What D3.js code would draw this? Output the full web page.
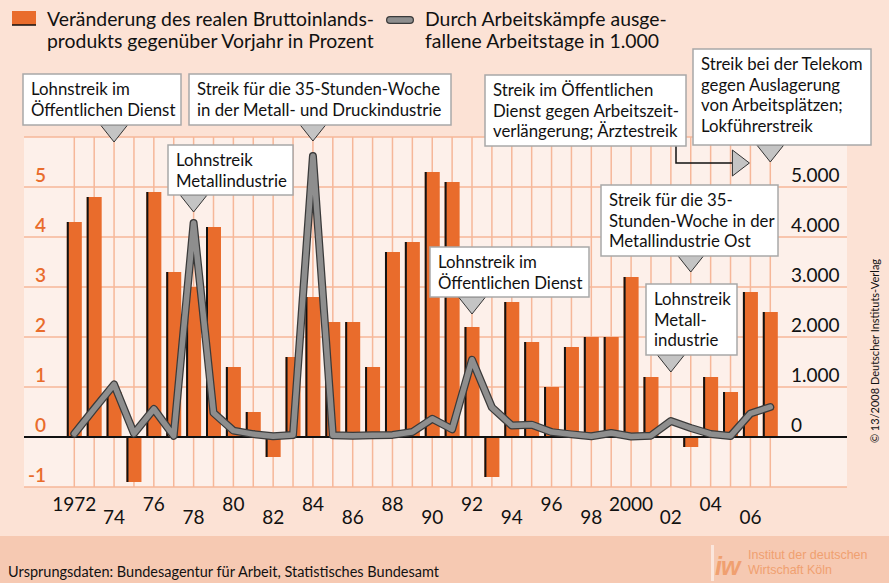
<!DOCTYPE html>
<html>
<head>
<meta charset="utf-8">
<script src="https://cdn.jsdelivr.net/npm/d3@7"></script>
<style>
  body { margin: 0; background: #fce2d5; }
  svg { display: block; font-family: Lato, "Open Sans", sans-serif; }
</style>
</head>
<body>
<script>
// years on the x axis
var years = [1972, 1973, 1974, 1975, 1976, 1977, 1978, 1979, 1980, 1981,
             1982, 1983, 1984, 1985, 1986, 1987, 1988, 1989, 1990, 1991,
             1992, 1993, 1994, 1995, 1996, 1997, 1998, 1999, 2000, 2001,
             2002, 2003, 2004, 2005, 2006, 2007];

// real GDP change vs previous year, percent (bars, left axis)
var gdpChange = [4.3, 4.8, 0.9, -0.9, 4.9, 3.3, 3.0, 4.2, 1.4, 0.5,
                 -0.4, 1.6, 2.8, 2.3, 2.3, 1.4, 3.7, 3.9, 5.3, 5.1,
                 2.2, -0.8, 2.7, 1.9, 1.0, 1.8, 2.0, 2.0, 3.2, 1.2,
                 0.0, -0.2, 1.2, 0.9, 2.9, 2.5];

// working days lost through strikes, in 1.000 (line, right axis)
var lostDays = [66, 563, 1051, 69, 560, 24, 4281, 483, 128, 58,
                15, 41, 5618, 35, 27, 33, 42, 100, 364, 154,
                1545, 593, 229, 247, 98, 53, 16, 79, 11, 27,
                320, 180, 60, 20, 470, 600];

// tick labels
var yearTicks  = [1972, 1974, 1976, 1978, 1980, 1982, 1984, 1986, 1988, 1990,
                  1992, 1994, 1996, 1998, 2000, 2002, 2004, 2006];
var yearLabels = ["1972", "74", "76", "78", "80", "82", "84", "86", "88", "90",
                  "92", "94", "96", "98", "2000", "02", "04", "06"];
var leftTicks  = [-1, 0, 1, 2, 3, 4, 5];
var rightTicks = [0, 1000, 2000, 3000, 4000, 5000];

// strike notes
var noteYears = [1974, 1984, 1978, 1992, 2003, 2002, 2006, 2007];
var noteTexts = [
  ["Lohnstreik im", "Öffentlichen Dienst"],
  ["Streik für die 35-Stunden-Woche", "in der Metall- und Druckindustrie"],
  ["Lohnstreik", "Metallindustrie"],
  ["Lohnstreik im", "Öffentlichen Dienst"],
  ["Streik für die 35-", "Stunden-Woche in der", "Metallindustrie Ost"],
  ["Lohnstreik", "Metall-", "industrie"],
  ["Streik im Öffentlichen", "Dienst gegen Arbeitszeit-", "verlängerung; Ärztestreik"],
  ["Streik bei der Telekom", "gegen Auslagerung", "von Arbeitsplätzen;", "Lokführerstreik"]
];

var width = 889, height = 583;
var orange = "#e96c2c";
var grid = "#f6b799";

var svg = d3.select("body").append("svg")
  .attr("width", width)
  .attr("height", height);

// backgrounds
svg.append("rect").attr("width", width).attr("height", height).attr("fill", "#fce2d5");
svg.append("rect").attr("x", 0).attr("y", 536).attr("width", width).attr("height", 47)
  .attr("fill", "#f6c9b2");

var plotL = 24, plotR = 847, plotT = 137, plotB = 487;

var x = d3.scalePoint().domain(years).range([74.3, 770.3]);
var y = d3.scaleLinear().domain([-1, 6]).range([plotB, plotT]);
var y2 = d3.scaleLinear().domain([-1000, 6000]).range([plotB, plotT]);

svg.append("rect")
  .attr("x", plotL).attr("y", plotT)
  .attr("width", plotR - plotL).attr("height", plotB - plotT)
  .attr("fill", "#fdf0ea");

// grid
svg.selectAll(".vgrid").data(years).enter().append("line")
  .attr("x1", function(d) { return x(d); })
  .attr("x2", function(d) { return x(d); })
  .attr("y1", plotT).attr("y2", plotB)
  .attr("stroke", grid).attr("stroke-width", 1.5);

svg.selectAll(".hgrid").data([-1, 0, 1, 2, 3, 4, 5, 6]).enter().append("line")
  .attr("x1", plotL).attr("x2", plotR)
  .attr("y1", function(d) { return y(d); })
  .attr("y2", function(d) { return y(d); })
  .attr("stroke", grid).attr("stroke-width", 1.5);

// bars
var barW = 15;
var bars = svg.selectAll(".bar").data(years).enter().append("g");
bars.append("rect")
  .attr("x", function(d) { return x(d) - barW / 2; })
  .attr("width", barW)
  .attr("y", function(d, i) { return Math.min(y(gdpChange[i]), y(0)); })
  .attr("height", function(d, i) { return Math.abs(y(gdpChange[i]) - y(0)); })
  .attr("fill", orange);
bars.append("rect")
  .attr("x", function(d) { return x(d) - barW / 2; })
  .attr("width", 2)
  .attr("y", function(d, i) { return Math.min(y(gdpChange[i]), y(0)); })
  .attr("height", function(d, i) { return Math.abs(y(gdpChange[i]) - y(0)); })
  .attr("fill", "#111");

// zero line
svg.append("line")
  .attr("x1", plotL).attr("x2", plotR)
  .attr("y1", y(0)).attr("y2", y(0))
  .attr("stroke", "#111").attr("stroke-width", 1.8);

// strike line
var line = d3.line()
  .x(function(d, i) { return x(years[i]); })
  .y(function(d) { return y2(d); });

svg.append("path").datum(lostDays)
  .attr("d", line).attr("fill", "none")
  .attr("stroke", "#3a3a3a").attr("stroke-width", 8)
  .attr("stroke-linejoin", "round").attr("stroke-linecap", "round");
svg.append("path").datum(lostDays)
  .attr("d", line).attr("fill", "none")
  .attr("stroke", "#8e8e8e").attr("stroke-width", 5.5)
  .attr("stroke-linejoin", "round").attr("stroke-linecap", "round");

// left axis labels
svg.selectAll(".lt").data(leftTicks).enter().append("text")
  .attr("x", 46)
  .attr("y", function(d) { return y(d) - 5; })
  .attr("text-anchor", "end")
  .attr("fill", orange)
  .attr("font-size", 19)
  .attr("font-weight", 600)
  .text(function(d) { return d; });

// right axis labels
var fmt = d3.formatLocale({ decimal: ",", thousands: ".", grouping: [3], currency: ["", " €"] }).format(",");
svg.selectAll(".rt").data(rightTicks).enter().append("text")
  .attr("x", 791)
  .attr("y", function(d) { return y2(d) - 5; })
  .attr("fill", "#111")
  .attr("font-size", 19)
  .text(function(d) { return fmt(d); });

// year labels, alternating heights
svg.selectAll(".yt").data(yearTicks).enter().append("text")
  .attr("x", function(d) { return x(d); })
  .attr("y", function(d, i) { return i % 2 === 0 ? 511 : 524; })
  .attr("text-anchor", "middle")
  .attr("fill", "#111")
  .attr("font-size", 19)
  .text(function(d, i) { return yearLabels[i]; });

// annotation boxes: [x, y, w, h, tipY]
var boxes = [
  [23, 74, 158, 51, 142],
  [189, 74, 262, 51, 141],
  [168, 145, 125, 50, 212],
  [430, 247, 159, 50, 314],
  [601, 185, 177, 71, 272],
  [646, 284, 91, 71, 372],
  [485, 75, 201, 71, 163],
  [693, 49, 178, 96, 162]
];

noteYears.forEach(function(yr, i) {
  var b = boxes[i];
  var g = svg.append("g");
  var tx = x(yr);
  if (yr === 2006) {
    // elbow connector and right-pointing triangle
    g.append("path")
      .attr("d", "M676," + (b[1] + b[3]) + "V" + b[4] + "H" + (tx - 18))
      .attr("fill", "none").attr("stroke", "#111").attr("stroke-width", 1.5);
    g.append("path")
      .attr("d", "M" + (tx - 18) + "," + (b[4] - 13) + "L" + (tx - 1) + "," + b[4] +
                 "L" + (tx - 18) + "," + (b[4] + 13) + "Z")
      .attr("fill", "#c4c4c4").attr("stroke", "#333").attr("stroke-width", 1);
  } else {
    g.append("path")
      .attr("d", "M" + (tx - 13.5) + "," + (b[4] - 17) + "L" + tx + "," + b[4] +
                 "L" + (tx + 13.5) + "," + (b[4] - 17) + "Z")
      .attr("fill", "#c4c4c4").attr("stroke", "#333").attr("stroke-width", 1);
  }
  g.append("rect")
    .attr("x", b[0]).attr("y", b[1]).attr("width", b[2]).attr("height", b[3])
    .attr("fill", "#fff").attr("stroke", "#a8a8a8").attr("stroke-width", 1.5);
  g.selectAll("text").data(noteTexts[i]).enter().append("text")
    .attr("x", b[0] + 8)
    .attr("y", function(d, j) { return b[1] + 21 + j * 20.5; })
    .attr("font-size", 16.8)
    .attr("fill", "#111")
    .text(function(d) { return d; });
});

// legend
svg.append("rect").attr("x", 12).attr("y", 11).attr("width", 24).attr("height", 14).attr("fill", orange);
svg.append("line").attr("x1", 12).attr("x2", 36).attr("y1", 25).attr("y2", 25)
  .attr("stroke", "#111").attr("stroke-width", 1.5);
svg.append("line").attr("x1", 390).attr("x2", 410).attr("y1", 20).attr("y2", 20)
  .attr("stroke", "#3a3a3a").attr("stroke-width", 8).attr("stroke-linecap", "round");
svg.append("line").attr("x1", 390).attr("x2", 410).attr("y1", 20).attr("y2", 20)
  .attr("stroke", "#8e8e8e").attr("stroke-width", 5.5).attr("stroke-linecap", "round");

var legendText = [
  [47, ["Veränderung des realen Bruttoinlands-", "produkts gegenüber Vorjahr in Prozent"]],
  [425, ["Durch Arbeitskämpfe ausge-", "fallene Arbeitstage in 1.000"]]
];
legendText.forEach(function(l) {
  svg.append("g").selectAll("text").data(l[1]).enter().append("text")
    .attr("x", l[0])
    .attr("y", function(d, j) { return 26 + j * 22; })
    .attr("font-size", 19.4)
    .attr("fill", "#111")
    .text(function(d) { return d; });
});

// copyright
svg.append("text")
  .attr("transform", "translate(879,351) rotate(-90)")
  .attr("text-anchor", "middle")
  .attr("font-size", 11)
  .attr("fill", "#111")
  .text("© 13/2008 Deutscher Instituts-Verlag");

// footer
svg.append("text")
  .attr("x", 8).attr("y", 577)
  .attr("font-size", 14.5)
  .attr("fill", "#111")
  .text("Ursprungsdaten: Bundesagentur für Arbeit, Statistisches Bundesamt");

// iw logo
svg.append("rect").attr("x", 711).attr("y", 545).attr("width", 3).attr("height", 36).attr("fill", "#fbe6dc");
svg.append("text")
  .attr("x", 715).attr("y", 575)
  .attr("font-size", 25).attr("font-weight", 900).attr("font-style", "italic")
  .attr("fill", "#f0a070")
  .attr("font-family", "'Liberation Sans', sans-serif")
  .attr("letter-spacing", -1)
  .text("iw");
svg.append("g").selectAll("text").data(["Institut der deutschen", "Wirtschaft Köln"]).enter().append("text")
  .attr("x", 748)
  .attr("y", function(d, j) { return 559 + j * 15; })
  .attr("font-size", 12.5)
  .attr("fill", "#f0a070")
  .attr("font-family", "'Liberation Sans Narrow', 'Liberation Sans', sans-serif")
  .text(function(d) { return d; });
</script>
</body>
</html>
